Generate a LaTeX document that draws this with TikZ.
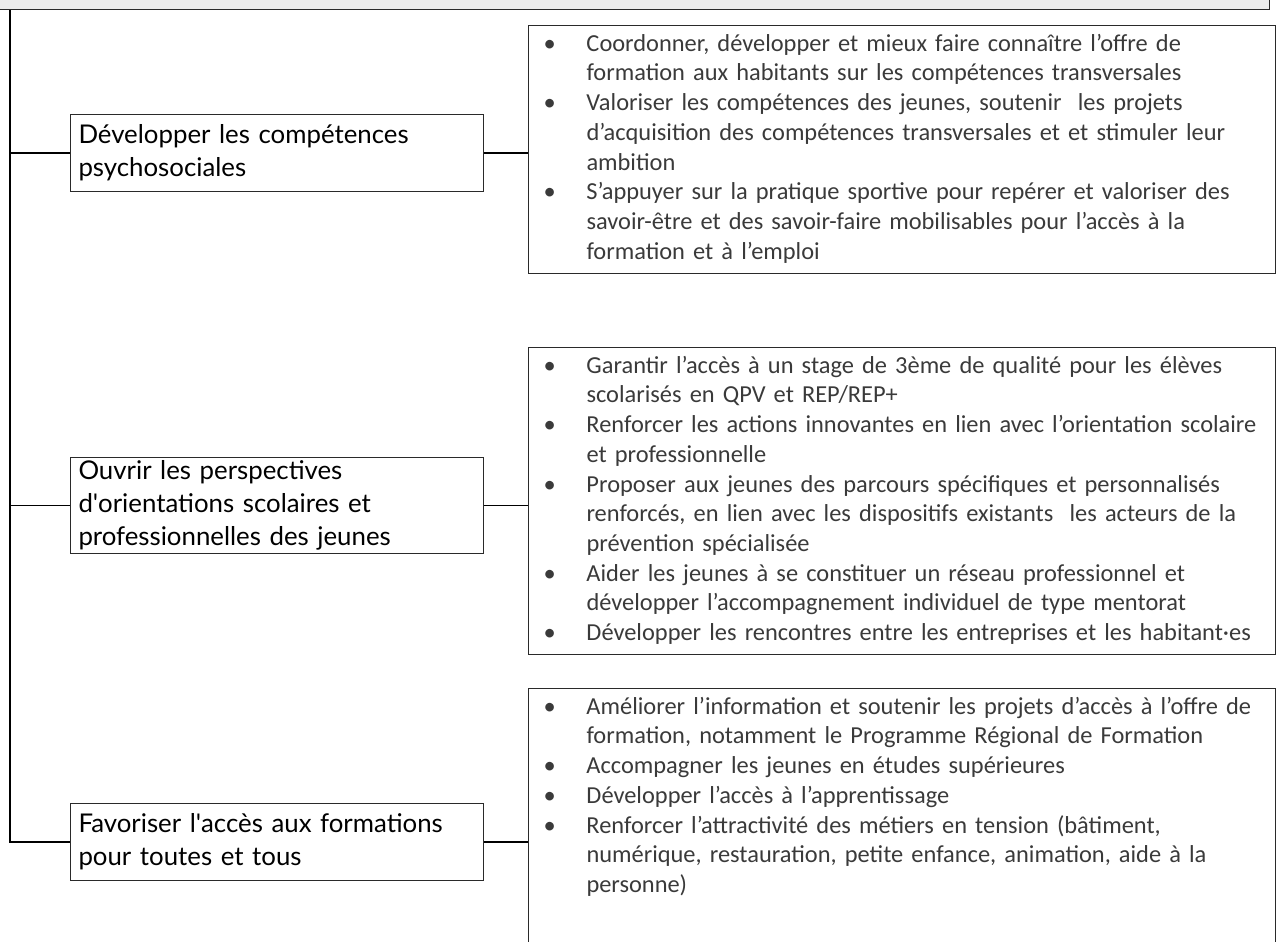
\documentclass[tikz,border=0pt]{standalone}
\usepackage{fontspec}
\usepackage{array}
\setmainfont{Lato}
\newfontfamily\bltfont{Carlito}
\definecolor{hdrgrey}{HTML}{ECECEC}
\definecolor{edge}{HTML}{2A2A2A}
\definecolor{blttext}{HTML}{3A3A3A}
\newcolumntype{B}{@{\hspace{7pt}}p{43pt}@{}}
\begin{document}
\begin{tikzpicture}[x=1pt,y=-1pt,
  hdrbox/.style={draw=edge, line width=1pt, fill=hdrgrey, anchor=south west,
    minimum width=1274pt, minimum height=20pt, inner sep=0pt},
  lbox/.style={draw=edge, line width=1pt, anchor=north west, minimum width=413pt,
    text width=397pt, inner xsep=8pt, align=left,
    font=\fontsize{25.8}{33}\selectfont},
  bbox/.style={draw=edge, line width=1pt, anchor=north west, text width=731pt,
    inner xsep=8pt, inner ysep=5pt, align=left, text=blttext,
    font=\bltfont\fontsize{24.4}{29.7}\selectfont},
  conn/.style={draw=black, line width=1.6pt}]
\useasboundingbox (0,0) rectangle (1277,942);

\node[hdrbox] (hdr) at (-5,10) {};

% left boxes
\node[lbox, minimum height=77pt] (l1) at (70,114) {Développer les compétences\\psychosociales};
\node[lbox, minimum height=91pt] (l2) at (70,457) {Ouvrir les perspectives\\d\textquotesingle orientations scolaires et\\professionnelles des jeunes};
\node[lbox, minimum height=77pt] (l3) at (70,803) {Favoriser l\textquotesingle accès aux formations\\pour toutes et tous};

% bullet boxes
\node[bbox] (b1) at (528,25) {\begin{tabular}{Bl@{}}
\textbullet & Coordonner, développer et mieux faire connaître l’offre de\\
 & formation aux habitants sur les compétences transversales\\
\textbullet & Valoriser les compétences des jeunes, soutenir\ \ les projets\\
 & d’acquisition des compétences transversales et et stimuler leur\\
 & ambition\\
\textbullet & S’appuyer sur la pratique sportive pour repérer et valoriser des\\
 & savoir-être et des savoir-faire mobilisables pour l’accès à la\\
 & formation et à l’emploi
\end{tabular}};

\node[bbox] (b2) at (528,347) {\begin{tabular}{Bl@{}}
\textbullet & Garantir l’accès à un stage de 3ème de qualité pour les élèves\\
 & scolarisés en QPV et REP/REP+\\
\textbullet & Renforcer les actions innovantes en lien avec l’orientation scolaire\\
 & et professionnelle\\
\textbullet & Proposer aux jeunes des parcours spécifiques et personnalisés\\
 & renforcés, en lien avec les dispositifs existants\ \ les acteurs de la\\
 & prévention spécialisée\\
\textbullet & Aider les jeunes à se constituer un réseau professionnel et\\
 & développer l’accompagnement individuel de type mentorat\\
\textbullet & Développer les rencontres entre les entreprises et les habitant·es
\end{tabular}};

\node[bbox] (b3) at (528,688) {\begin{tabular}{Bl@{}}
\textbullet & Améliorer l’information et soutenir les projets d’accès à l’offre de\\
 & formation, notamment le Programme Régional de Formation\\
\textbullet & Accompagner les jeunes en études supérieures\\
\textbullet & Développer l’accès à l’apprentissage\\
\textbullet & Renforcer l’attractivité des métiers en tension (bâtiment,\\
 & numérique, restauration, petite enfance, animation, aide à la\\
 & personne)\\
 & \\
 &
\end{tabular}};

% spine
\coordinate (spine) at (10,0);
\draw[conn] (spine |- hdr.south) -- (spine |- l3.west) -- (l3.west);
\draw[conn] (spine |- l1.west) -- (l1.west);
\draw[conn] (spine |- l2.west) -- (l2.west);

% right connectors
\draw[conn] (l1.east) -- (l1.east -| b1.west);
\draw[conn] (l2.east) -- (l2.east -| b2.west);
\draw[conn] (l3.east) -- (l3.east -| b3.west);
\end{tikzpicture}
\end{document}
